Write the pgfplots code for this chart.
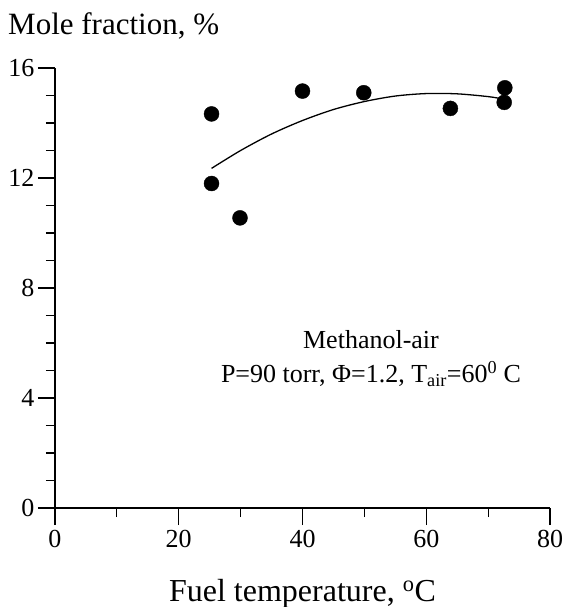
\documentclass[border=0pt]{standalone}
\usepackage{pgfplots}
\pgfplotsset{compat=1.18}
\usepackage{fontspec}
\setmainfont{Liberation Serif}
\begin{document}
\begin{tikzpicture}
\useasboundingbox (-55pt,-99pt) rectangle (513pt,508pt);
\begin{axis}[
  scale only axis,
  width=495pt, height=440pt,
  xmin=0, xmax=80, ymin=0, ymax=16,
  axis x line=bottom, axis y line=left,
  axis line style={-, line width=1.2pt, black},
  xtick={0,20,40,60,80}, ytick={0,4,8,12,16},
  minor x tick num=1, minor y tick num=3,
  tick align=outside,
  major tick length=17pt, minor tick length=9pt,
  every tick/.style={black, line width=1.2pt},
  /pgf/number format/assume math mode=true,
  tick label style={font=\fontsize{26}{26}\selectfont},
  xticklabel style={yshift=-2pt},
  xlabel={Fuel temperature, \textsuperscript{o}C},
  xlabel style={font=\fontsize{32}{32}\selectfont, inner sep=0pt, at={(axis description cs:0.5,0)}, anchor=base, yshift=-93pt},
  ylabel={Mole fraction, \%},
  ylabel style={font=\fontsize{31}{31}\selectfont, inner sep=0pt, rotate=-90, at={(axis description cs:0,1)}, anchor=base west, xshift=-47pt, yshift=33pt},
  clip=false,
]
\addplot[only marks, mark=*, mark size=7.5pt, black] coordinates {
  (25.3,14.33) (25.3,11.80) (29.9,10.55) (40.0,15.16) (49.9,15.10)
  (63.9,14.53) (72.7,15.28) (72.6,14.75)
};
\addplot[smooth, line width=1.3pt, black] coordinates {
  (25.3,12.35) (30,13.00) (35,13.60) (40,14.09) (45,14.49) (50,14.78)
  (55,14.98) (60,15.07) (65,15.06) (70,14.96) (72.2,14.88)
};
\node[anchor=base, inner sep=0pt, font=\fontsize{26}{26}\selectfont] at (axis cs:51.07,5.80) {Methanol-air};
\node[anchor=base, inner sep=0pt, font=\fontsize{26}{26}\selectfont] at (axis cs:51.07,4.55) {P=90 torr, Φ=1.2, T\textsubscript{air}=60\textsuperscript{0} C};
\end{axis}
\end{tikzpicture}
\end{document}
